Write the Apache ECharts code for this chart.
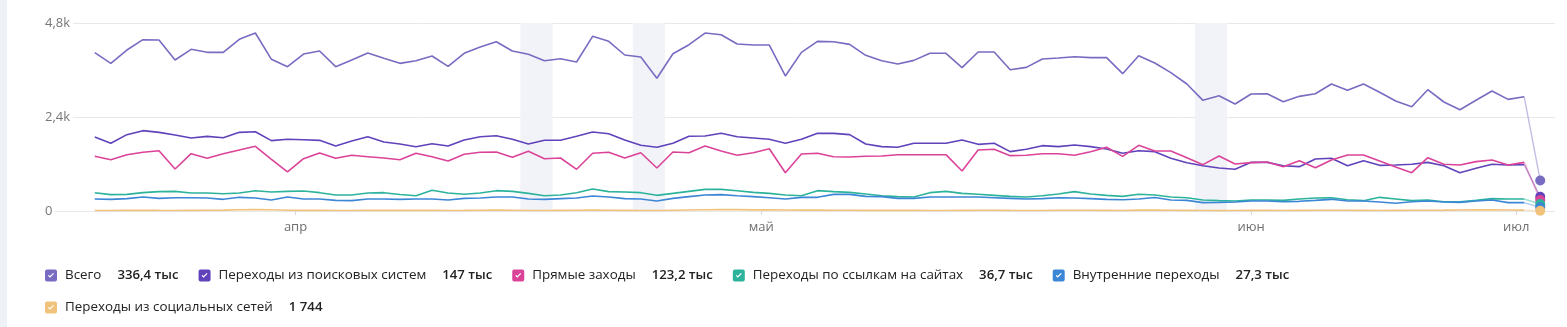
<!DOCTYPE html>
<html>
<head>
<meta charset="utf-8">
<title>Источники трафика</title>
<script src="https://cdn.jsdelivr.net/npm/echarts@6/dist/echarts.min.js"></script>
<style>
  html, body { margin: 0; padding: 0; background: #fff; }
  #chart { width: 1567px; height: 327px; }
</style>
</head>
<body>
<div id="chart"></div>
<script>
// Daily visits by traffic source (index = day of the period, last day is partial)
const total = [4042, 3770, 4110, 4374, 4366, 3855, 4128, 4051, 4051, 4383, 4544, 3872, 3685, 4008, 4085, 3685, 3855, 4034, 3898, 3770,
  3837, 3957, 3694, 4026, 4187, 4322, 4085, 4000, 3837, 3888, 3804, 4460, 4332, 3983, 3932, 3388, 4016, 4246, 4544, 4501, 4264, 4238, 4238,
  3447, 4051, 4332, 4322, 4255, 3974, 3837, 3753, 3846, 4026, 4026, 3659, 4059, 4059, 3608, 3668, 3881, 3906, 3940, 3915, 3915, 3506, 3965, 3780,
  3532, 3242, 2826, 2944, 2732, 2987, 2995, 2791, 2927, 2995, 3242, 3081, 3242, 3030, 2808, 2663, 3097, 2783, 2586, 2826, 3064, 2851, 2918, 780];

const search = [1889, 1728, 1949, 2051, 2008, 1940, 1864, 1906, 1872, 2008, 2025, 1796, 1830, 1821, 1804, 1659, 1787, 1898, 1762, 1711,
  1642, 1718, 1659, 1813, 1897, 1922, 1830, 1711, 1805, 1805, 1907, 2017, 1973, 1813, 1677, 1626, 1728, 1907, 1915, 1984, 1897, 1864, 1830,
  1728, 1830, 1983, 1983, 1949, 1711, 1643, 1626, 1728, 1728, 1728, 1813, 1702, 1728, 1515, 1575, 1668, 1643, 1685, 1643, 1583, 1473, 1540, 1515,
  1345, 1234, 1157, 1098, 1064, 1242, 1242, 1157, 1132, 1328, 1345, 1157, 1285, 1166, 1174, 1192, 1242, 1157, 978, 1089, 1192, 1174, 1183, 366];

const direct = [1396, 1310, 1438, 1498, 1540, 1072, 1463, 1345, 1463, 1557, 1651, 1319, 996, 1336, 1481, 1345, 1422, 1387, 1353, 1310,
  1473, 1386, 1277, 1447, 1499, 1506, 1371, 1524, 1335, 1353, 1065, 1473, 1499, 1353, 1488, 1098, 1506, 1488, 1659, 1532, 1422, 1488, 1590,
  978, 1455, 1473, 1386, 1379, 1396, 1404, 1438, 1438, 1438, 1438, 1021, 1557, 1575, 1413, 1422, 1463, 1463, 1422, 1515, 1626, 1396, 1677, 1532,
  1532, 1362, 1183, 1404, 1200, 1234, 1251, 1132, 1285, 1106, 1302, 1430, 1430, 1277, 1123, 978, 1362, 1192, 1174, 1260, 1302, 1174, 1242, 281];

const links = [468, 417, 425, 468, 494, 502, 460, 460, 442, 460, 519, 485, 502, 511, 468, 408, 408, 460, 468, 420,
  391, 528, 460, 426, 460, 519, 502, 451, 391, 408, 468, 562, 494, 485, 468, 400, 451, 502, 553, 553, 519, 476, 451,
  408, 391, 519, 494, 476, 434, 391, 366, 357, 468, 502, 451, 426, 400, 374, 357, 391, 434, 494, 434, 400, 374, 426, 408,
  357, 340, 281, 264, 255, 281, 281, 272, 306, 332, 340, 289, 264, 349, 306, 264, 281, 238, 238, 272, 315, 306, 306, 179];

const internal = [306, 298, 315, 357, 323, 340, 340, 332, 298, 349, 332, 281, 357, 306, 306, 272, 264, 306, 306, 298,
  306, 306, 281, 323, 332, 357, 357, 306, 298, 315, 332, 383, 357, 315, 306, 255, 323, 366, 408, 417, 391, 366, 340,
  306, 349, 349, 425, 425, 374, 366, 323, 323, 357, 357, 357, 357, 340, 323, 306, 315, 340, 332, 315, 298, 289, 306, 345,
  281, 272, 213, 221, 230, 255, 255, 238, 247, 272, 298, 255, 255, 230, 196, 238, 255, 230, 221, 255, 281, 213, 213, 94];

const social = [14, 12, 16, 18, 15, 13, 17, 20, 22, 30, 38, 32, 20, 16, 18, 14, 12, 15, 19, 17,
  16, 18, 13, 15, 20, 22, 18, 14, 12, 16, 19, 24, 21, 17, 13, 11, 18, 25, 32, 36, 34, 28, 30,
  26, 22, 24, 20, 18, 16, 15, 17, 19, 14, 13, 16, 18, 20, 15, 12, 14, 18, 21, 19, 16, 14, 22, 25,
  20, 16, 12, 10, 13, 15, 17, 14, 16, 19, 21, 18, 15, 13, 16, 18, 20, 22, 26, 28, 30, 24, 22, 6];

const seriesNames = ['Всего', 'Переходы из поисковых систем', 'Прямые заходы',
  'Переходы по ссылкам на сайтах', 'Внутренние переходы', 'Переходы из социальных сетей'];
const seriesTotals = ['336,4 тыс', '147 тыс', '123,2 тыс', '36,7 тыс', '27,3 тыс', '1 744'];
const seriesValues = [total, search, direct, links, internal, social];

// Month boundaries on the day-index axis and their labels
const monthTickAt = [12.5, 41.5, 72, 88.5];
const monthLabels = ['апр', 'май', 'июн', 'июл'];

// Highlighted days (first and last day of each band)
const highlightDays = [[27, 28], [34, 35], [69, 70]];

const colors = ['#776cc2', '#6043bb', '#db4399', '#2db39c', '#3c86d6', '#f0c27a'];

const FONT = '"Open Sans", "Noto Sans", sans-serif';

// Checkbox-style legend marker: rounded square with a knocked-out tick
const checkIcon = 'path://M2,0 H10 Q12,0 12,2 V10 Q12,12 10,12 H2 Q0,12 0,10 V2 Q0,0 2,0 Z ' +
  'M3,6.2 L5,8.2 L9,4.2 L8.2,3.4 L5,6.6 L3.8,5.4 Z';

const series = [];
seriesValues.forEach((vals, k) => {
  const pts = vals.map((v, i) => [i, v]);
  const last = pts.length - 1;
  const main = {
    name: seriesNames[k],
    type: 'line',
    data: pts.slice(0, last),
    showSymbol: false,
    symbol: 'none',
    lineStyle: { width: 1.6, color: colors[k] },
    itemStyle: { color: colors[k] },
    emphasis: { disabled: true }
  };
  if (k === 0) {
    main.markArea = {
      silent: true,
      itemStyle: { color: '#f2f3f8' },
      data: highlightDays.map(([a, b]) => [{ xAxis: a - 0.5 }, { xAxis: b + 0.5 }])
    };
  }
  series.push(main);
  // unfinished last day: faded segment ending with a dot
  series.push({
    name: seriesNames[k],
    type: 'line',
    data: pts.slice(last - 1),
    symbol: 'circle',
    showSymbol: true,
    symbolSize: (val, p) => (p.dataIndex === 1 ? 10 : 0),
    lineStyle: { width: 1.4, color: colors[k], opacity: 0.45 },
    itemStyle: { color: colors[k], opacity: 1 },
    emphasis: { disabled: true }
  });
});

const legendRich = {
  n: { fontFamily: FONT, fontSize: 13.4, color: '#222', padding: [0, 0, 0, 3], lineHeight: 14 },
  v: { fontFamily: FONT, fontSize: 13.2, fontWeight: 600, color: '#222', padding: [0, 0, 0, 16], lineHeight: 14 }
};
const legendFormatter = (name) => '{n|' + name + '}{v|' + seriesTotals[seriesNames.indexOf(name)] + '}';

const legendBase = {
  padding: 0,
  icon: checkIcon, itemWidth: 12, itemHeight: 12, itemGap: 20,
  selectedMode: false,
  formatter: legendFormatter,
  textStyle: { rich: legendRich }
};

const chart = echarts.init(document.getElementById('chart'), null, { renderer: 'canvas' });
chart.setOption({
  animation: false,
  color: colors,
  graphic: [{
    type: 'rect', left: 0, top: 0, z: -10,
    shape: { width: 7, height: 327 },
    style: { fill: '#eef1f5' }
  }],
  grid: { left: 44, right: 12, top: 23, bottom: 116 },
  xAxis: {
    type: 'value',
    min: -3.16,
    max: 90.92,
    splitLine: { show: false },
    axisLine: { show: false },
    axisTick: { show: true, customValues: monthTickAt, length: 4, lineStyle: { color: '#d6d6d6' } },
    axisLabel: {
      customValues: monthTickAt,
      formatter: (v) => monthLabels[monthTickAt.indexOf(v)],
      margin: 10,
      color: '#6f6f6f',
      fontFamily: FONT,
      fontSize: 13
    }
  },
  yAxis: {
    type: 'value',
    min: 0,
    max: 4800,
    interval: 2400,
    axisLine: { show: false },
    axisTick: { show: false },
    splitLine: { lineStyle: { color: '#e8e8e8', width: 1 } },
    axisLabel: {
      inside: true,
      margin: 1,
      color: '#777',
      fontFamily: FONT,
      fontSize: 13,
      backgroundColor: '#fff',
      padding: [1, 3, 1, 0],
      formatter: (v) => (v === 0 ? '0' : (v / 1000).toFixed(1).replace('.', ',') + 'k')
    }
  },
  legend: [
    Object.assign({ data: seriesNames.slice(0, 5), left: 45, top: 269 }, legendBase),
    Object.assign({ data: seriesNames.slice(5), left: 45, top: 301 }, legendBase)
  ],
  series: series
});
</script>
</body>
</html>
